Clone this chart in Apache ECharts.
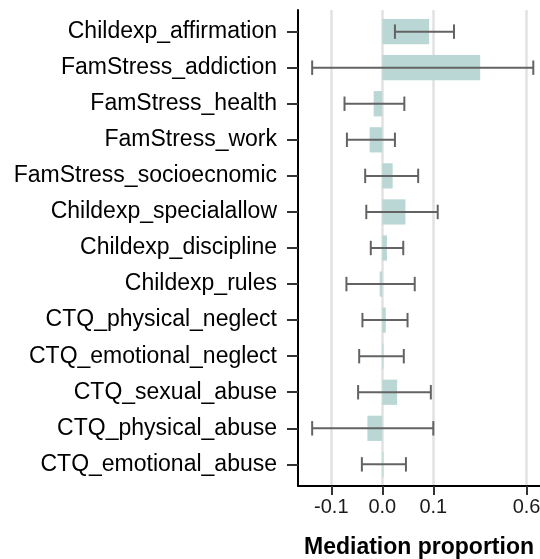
<html>
<head>
<meta charset="utf-8">
<script src="https://cdn.jsdelivr.net/npm/echarts@6/dist/echarts.min.js"></script>
<style>
  html, body { margin: 0; padding: 0; background: #fff; }
  #chart { width: 540px; height: 559px; }
</style>
</head>
<body>
<div id="chart"></div>
<script type="text/javascript">

// rows, top to bottom
var categories = [
    'Childexp_affirmation',
    'FamStress_addiction',
    'FamStress_health',
    'FamStress_work',
    'FamStress_socioecnomic',
    'Childexp_specialallow',
    'Childexp_discipline',
    'Childexp_rules',
    'CTQ_physical_neglect',
    'CTQ_emotional_neglect',
    'CTQ_sexual_abuse',
    'CTQ_physical_abuse',
    'CTQ_emotional_abuse'
];

var estimates = [0.090, 0.262, -0.015, -0.022, 0.018, 0.041, 0.008, -0.0045, 0.006, 0.002, 0.026, -0.026, 0.002];
var ciLower   = [0.022, -0.153, -0.070, -0.065, -0.030, -0.028, -0.020, -0.066, -0.035, -0.041, -0.043, -0.153, -0.036];
var ciUpper   = [0.158, 0.675, 0.039, 0.022, 0.066, 0.111, 0.037, 0.059, 0.045, 0.038, 0.094, 0.100, 0.042];

var tickValues = [-0.1, 0.0, 0.1, 0.6];

// pseudo-log scale (asinh), like ggplot's pseudo_log_trans
function pl(x) { return Math.asinh(x / 0.1); }
function plInv(t) { return 0.1 * Math.sinh(t); }

var barData = [];
var errData = [];
for (var i = 0; i < categories.length; i++) {
    barData.push([pl(estimates[i]), i + 1]);
    errData.push([pl(ciLower[i]), pl(ciUpper[i]), i + 1]);
}

var rowValues = categories.map(function (c, i) { return i + 1; });

var option = {
    animation: false,
    grid: { left: 298, right: 0, top: 10, bottom: 73, outerBoundsMode: 'none', containLabel: false },
    xAxis: {
        type: 'value',
        min: -1.456,
        max: 2.724,
        name: 'Mediation proportion',
        nameLocation: 'middle',
        nameGap: 50,
        nameTextStyle: { fontFamily: 'Liberation Sans', fontSize: 23, fontWeight: 'bold', color: '#000' },
        axisLine: { show: true, onZero: false, lineStyle: { color: '#000', width: 2 } },
        axisTick: { show: true, length: 9, customValues: tickValues.map(pl), lineStyle: { color: '#333', width: 2 } },
        axisLabel: {
            customValues: tickValues.map(pl),
            margin: 11,
            fontFamily: 'Liberation Sans', fontSize: 20, color: '#1a1a1a',
            formatter: function (v) { return plInv(v).toFixed(1); }
        },
        splitLine: { show: true, lineStyle: { color: '#e2e2e2', width: 2.5 } }
    },
    yAxis: {
        type: 'value',
        inverse: true,
        min: 0.4,
        max: categories.length + 0.6,
        axisLine: { show: true, onZero: false, lineStyle: { color: '#000', width: 2 } },
        axisTick: { show: true, length: 11, customValues: rowValues, lineStyle: { color: '#333', width: 2 } },
        axisLabel: {
            customValues: rowValues,
            margin: 21,
            fontFamily: 'Liberation Sans', fontSize: 23, color: '#000',
            formatter: function (v) { return categories[Math.round(v) - 1] || ''; }
        },
        splitLine: { show: false }
    },
    series: [
        {
            type: 'custom',
            name: 'estimate',
            data: barData,
            encode: { x: 0, y: 1 },
            renderItem: function (params, api) {
                var row = api.value(1);
                var p0 = api.coord([0, row]);
                var p1 = api.coord([api.value(0), row]);
                var h = api.size([0, 1])[1] * 0.7;
                return {
                    type: 'rect',
                    shape: { x: Math.min(p0[0], p1[0]), y: p0[1] - h / 2, width: Math.abs(p1[0] - p0[0]), height: h },
                    style: { fill: '#bad7d6' }
                };
            }
        },
        {
            type: 'custom',
            name: 'ci',
            data: errData,
            encode: { x: [0, 1], y: 2 },
            renderItem: function (params, api) {
                var row = api.value(2);
                var a = api.coord([api.value(0), row]);
                var b = api.coord([api.value(1), row]);
                var cap = api.size([0, 1])[1] * 0.2;
                var st = { stroke: '#636363', lineWidth: 2 };
                return {
                    type: 'group',
                    children: [
                        { type: 'line', shape: { x1: a[0], y1: a[1], x2: b[0], y2: b[1] }, style: st },
                        { type: 'line', shape: { x1: a[0], y1: a[1] - cap, x2: a[0], y2: a[1] + cap }, style: st },
                        { type: 'line', shape: { x1: b[0], y1: b[1] - cap, x2: b[0], y2: b[1] + cap }, style: st }
                    ]
                };
            }
        }
    ]
};

var chart = echarts.init(document.getElementById('chart'));
chart.setOption(option);

</script>
</body>
</html>
